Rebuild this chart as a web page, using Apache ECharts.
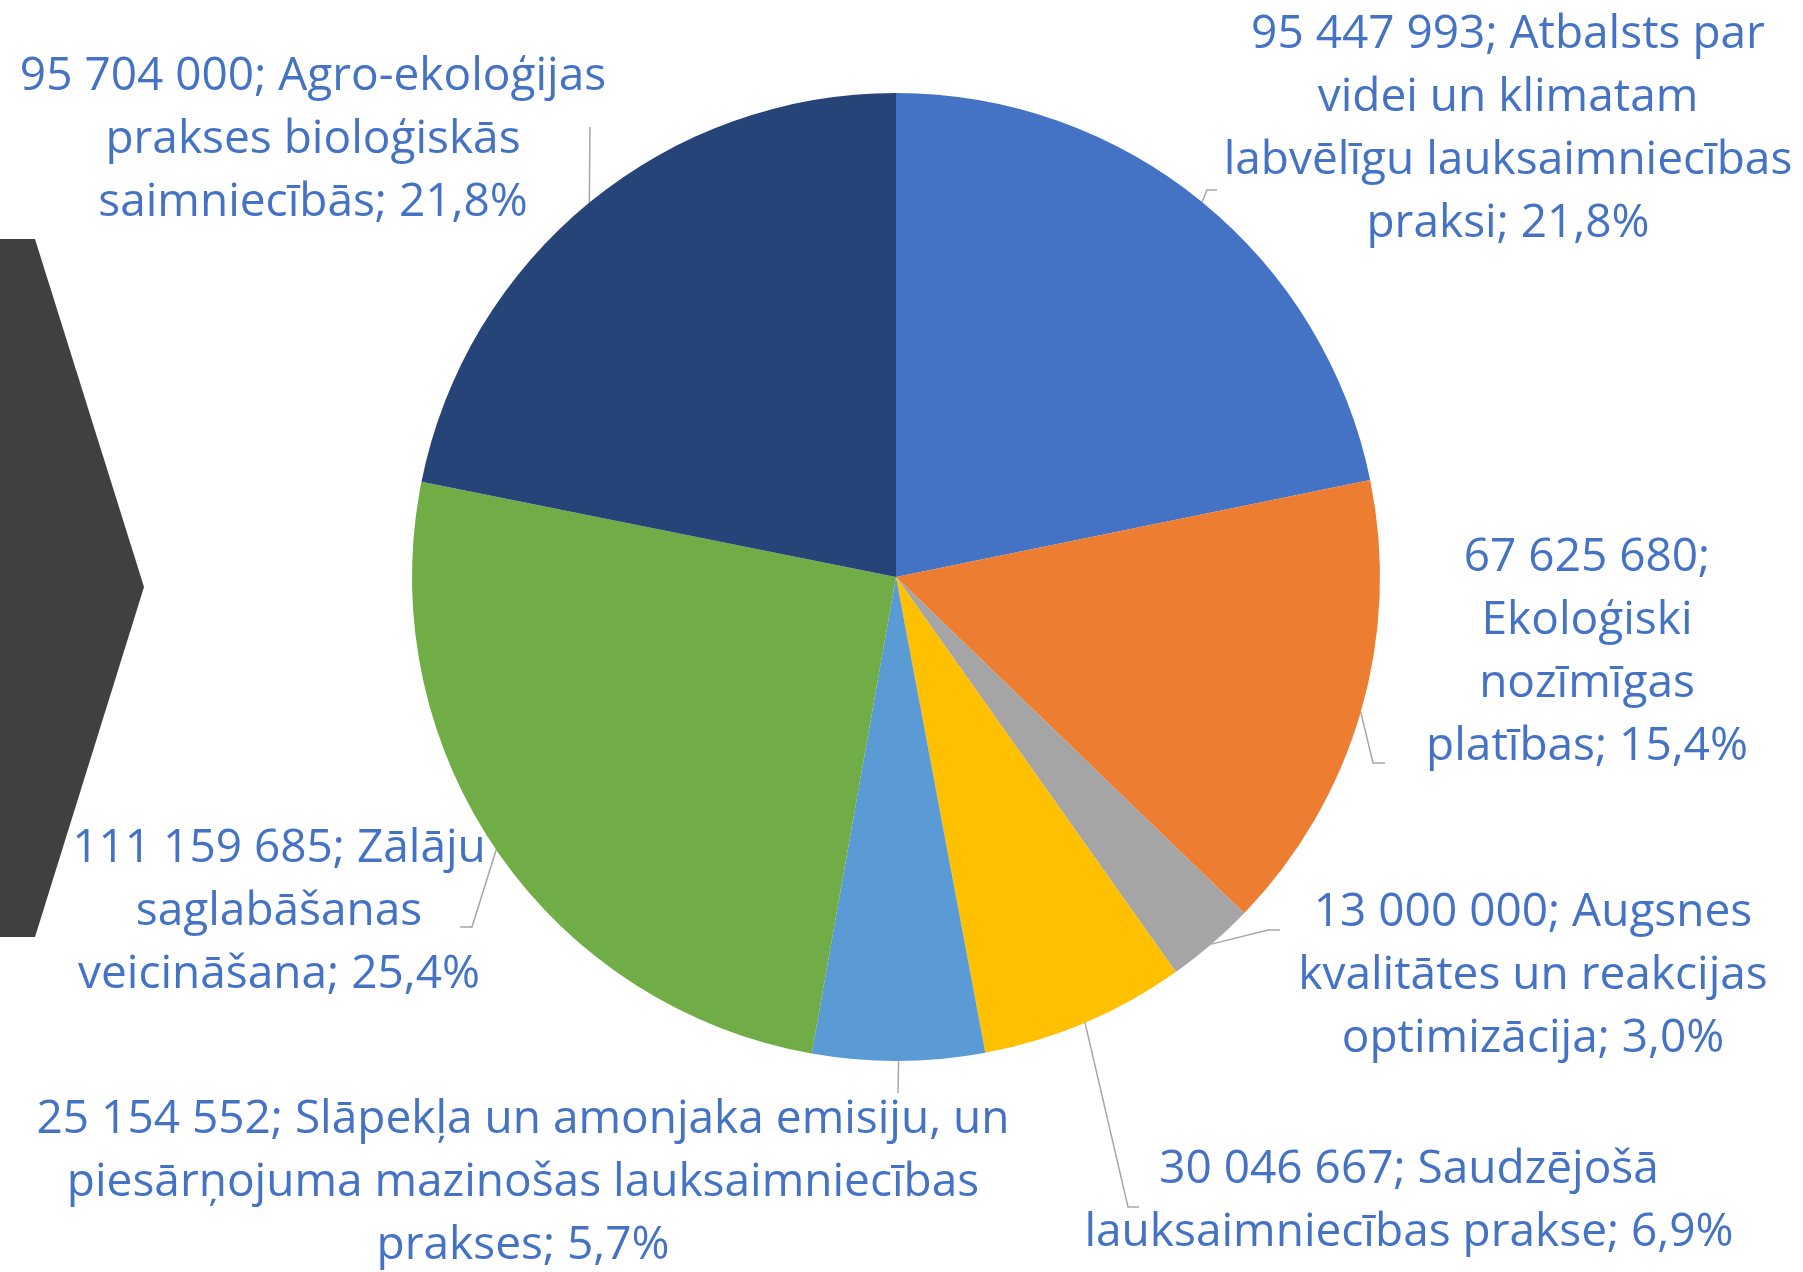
<!DOCTYPE html>
<html>
<head>
<meta charset="utf-8">
<script src="https://cdn.jsdelivr.net/npm/echarts@6/dist/echarts.min.js"></script>
<style>
  html, body { margin: 0; padding: 0; background: #fff; }
  #chart { width: 1803px; height: 1272px; }
</style>
</head>
<body>
<div id="chart"></div>
<script>
  // slices, clockwise from 12 o'clock
  var categories = [
    "Atbalsts par videi un klimatam labvēlīgu lauksaimniecības praksi",
    "Ekoloģiski nozīmīgas platības",
    "Augsnes kvalitātes un reakcijas optimizācija",
    "Saudzējošā lauksaimniecības prakse",
    "Slāpekļa un amonjaka emisiju, un piesārņojuma mazinošas lauksaimniecības prakses",
    "Zālāju saglabāšanas veicināšana",
    "Agro-ekoloģijas prakses bioloģiskās saimniecībās"
  ];
  var values = [95447993, 67625680, 13000000, 30046667, 25154552, 111159685, 95704000];
  var colors = ["#4472C4", "#ED7D31", "#A5A5A5", "#FFC000", "#5B9BD5", "#70AD47", "#264478"];

  // label placement (centre of each text block), words per text line,
  // and where each leader line bends / ends
  var labelPos = [[1508, 129], [1587, 652], [1533, 976], [1409, 1201], [523, 1183], [279, 912], [313, 140]];
  var lineWords = [[5, 3, 2, 2], [3, 1, 1, 2], [4, 3, 2], [4, 3], [8, 3, 2], [4, 1, 2], [4, 2, 2]];
  var leaderEnds = [
    [[1207, 190], [1217, 190]],
    [[1373, 763], [1385, 763]],
    [[1268, 930], [1280, 930]],
    [[1128, 1207], [1139, 1207]],
    [[898, 1093], [898, 1093]],
    [[472, 927], [460, 927]],
    [[590, 127], [590, 127]]
  ];

  function fmtNum(v) {
    return String(v).replace(/\B(?=(\d{3})+(?!\d))/g, " ");
  }

  function wrap(text, counts) {
    var words = text.split(" ");
    var lines = [], k = 0;
    counts.forEach(function (n) {
      lines.push(words.slice(k, k + n).join(" "));
      k += n;
    });
    if (k < words.length) lines.push(words.slice(k).join(" "));
    return lines.join("\n");
  }

  var chart = echarts.init(document.getElementById("chart"));

  var data = categories.map(function (name, i) {
    return { name: name, value: values[i], itemStyle: { color: colors[i] } };
  });

  chart.setOption({
    backgroundColor: "#ffffff",
    animation: false,
    graphic: [{
      type: "polygon",
      shape: { points: [[0, 239], [35, 239], [144, 587], [35, 937], [0, 937]] },
      style: { fill: "#404040" }
    }],
    series: [{
      type: "pie",
      center: [896, 577],
      radius: 484,
      startAngle: 90,
      clockwise: true,
      data: data,
      label: {
        show: true,
        position: "outside",
        color: "#4472C4",
        fontFamily: "Open Sans",
        fontSize: 46,
        lineHeight: 63,
        align: "center",
        overflow: "none",
        formatter: function (p) {
          var txt = fmtNum(p.value) + "; " + p.name + "; " + p.percent.toFixed(1).replace(".", ",") + "%";
          return wrap(txt, lineWords[p.dataIndex]);
        }
      },
      labelLine: {
        show: true,
        length: 20,
        length2: 10,
        lineStyle: { color: "#A6A6A6", width: 1.5 }
      },
      labelLayout: function (p) {
        var i = p.dataIndex;
        var pos = labelPos[i];
        var out = { x: pos[0], y: pos[1], align: "center", verticalAlign: "middle" };
        if (p.labelLinePoints && p.labelLinePoints.length) {
          var start = p.labelLinePoints[0];
          out.labelLinePoints = [[start[0], start[1]]].concat(leaderEnds[i]);
        }
        return out;
      }
    }]
  });
</script>
</body>
</html>
